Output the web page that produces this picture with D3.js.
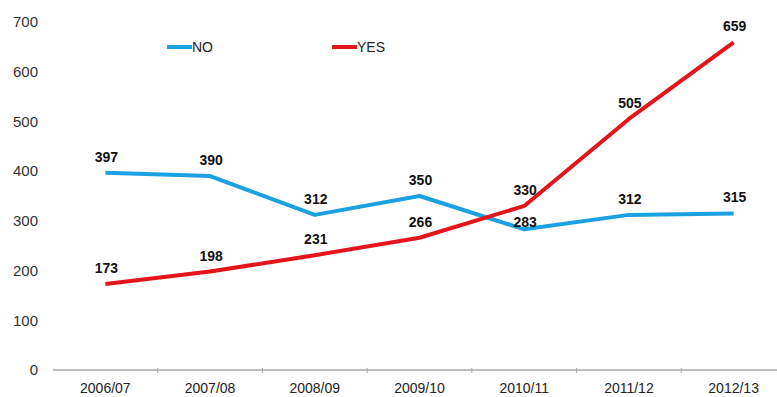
<!DOCTYPE html>
<html>
<head>
<meta charset="utf-8">
<script src="https://cdn.jsdelivr.net/npm/d3@7"></script>
<style>
  body { margin: 0; background: #fff; }
  text { font-family: Arial, "Liberation Sans", sans-serif; }
</style>
</head>
<body>
<div id="chart"></div>
<script>
// data
var years = ["2006/07", "2007/08", "2008/09", "2009/10", "2010/11", "2011/12", "2012/13"];
var noValues = [397, 390, 312, 350, 283, 312, 315];
var yesValues = [173, 198, 231, 266, 330, 505, 659];
var yTicks = [0, 100, 200, 300, 400, 500, 600, 700];

var width = 777, height = 397;

var svg = d3.select("#chart")
  .append("svg")
    .attr("width", width)
    .attr("height", height);

// band scale so the ticks fall between categories
var x = d3.scaleBand()
  .domain(years)
  .range([53, 786]);

var y = d3.scaleLinear()
  .domain([0, 700])
  .range([370, 22]);

var cx = function(d) { return x(d) + x.bandwidth() / 2; };

// y labels only, no axis line
svg.append("g")
  .selectAll("text")
  .data(yTicks)
  .join("text")
    .attr("x", 38)
    .attr("y", d => y(d))
    .attr("dy", "0.35em")
    .attr("text-anchor", "end")
    .style("font-size", "15px")
    .style("fill", "#333")
    .text(d => d);

// x axis
var xAxis = svg.append("g")
  .attr("transform", "translate(0,370)");

xAxis.append("line")
  .attr("x1", 53).attr("x2", width)
  .attr("stroke", "#aaa")
  .attr("stroke-width", 1.5);

xAxis.selectAll(".tick")
  .data(years.slice(1))
  .join("line")
    .attr("x1", d => x(d)).attr("x2", d => x(d))
    .attr("y1", -2).attr("y2", 3)
    .attr("stroke", "#aaa");

xAxis.selectAll(".lbl")
  .data(years)
  .join("text")
    .attr("x", d => cx(d))
    .attr("y", 23)
    .attr("text-anchor", "middle")
    .style("font-size", "14px")
    .style("fill", "#222")
    .text(d => d);

var series = [
  { name: "NO", values: noValues, color: "#1ba1e2" },
  { name: "YES", values: yesValues, color: "#e3151a" }
];

var line = d3.line()
  .x((d, i) => cx(years[i]))
  .y(d => y(d));

series.forEach(function(s) {
  svg.append("path")
    .datum(s.values)
    .attr("fill", "none")
    .attr("stroke", s.color)
    .attr("stroke-width", 4)
    .attr("stroke-linejoin", "round")
    .attr("d", line);
});

// value labels above points
series.forEach(function(s) {
  svg.append("g")
    .selectAll("text")
    .data(s.values)
    .join("text")
      .attr("x", (d, i) => cx(years[i]) + 1)
      // the 283 label sits lower, right on the line
      .attr("y", (d, i) => y(d) - ((s.name == "NO" && i == 4) ? 2 : 11))
      .attr("text-anchor", "middle")
      .style("font-size", "14px")
      .style("font-weight", "bold")
      .style("fill", "#111")
      .text(d => d);
});

// legend
var legendX = [167, 332];
series.forEach(function(s, i) {
  var g = svg.append("g").attr("transform", "translate(" + legendX[i] + ",47)");
  g.append("line")
    .attr("x1", 0).attr("x2", 25)
    .attr("stroke", s.color)
    .attr("stroke-width", 4);
  g.append("text")
    .attr("x", 25)
    .attr("dy", "0.35em")
    .style("font-size", "14px")
    .style("fill", "#222")
    .text(s.name);
});
</script>
</body>
</html>
